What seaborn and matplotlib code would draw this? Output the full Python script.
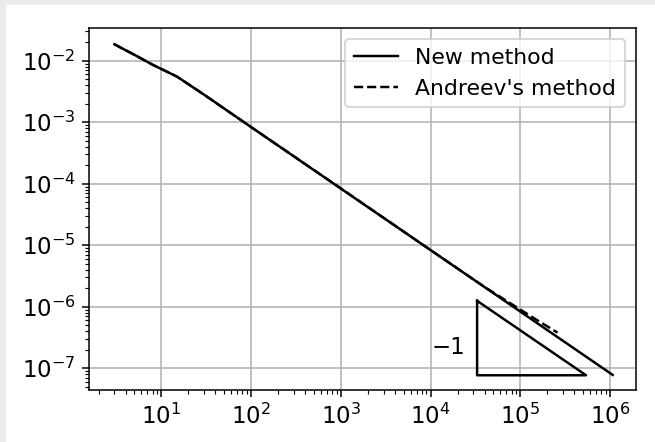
import matplotlib
matplotlib.use("Agg")
import matplotlib.pyplot as plt
import seaborn as sns
from matplotlib.patches import Rectangle
from matplotlib.ticker import NullFormatter

# values
n_new = [3, 5, 8, 15, 30, 100, 1e3, 1e4, 1e5, 1.07e6]
err_new = [1.85e-2, 1.25e-2, 8.6e-3, 5.5e-3, 2.8e-3, 8.35e-4, 8.35e-5, 8.35e-6, 8.35e-7, 7.8e-8]

n_andreev = [3, 5, 8, 15, 30, 100, 1e3, 1e4, 4e4, 7e4, 1.5e5, 2.6e5]
err_andreev = [1.85e-2, 1.25e-2, 8.6e-3, 5.5e-3, 2.8e-3, 8.35e-4, 8.4e-5, 8.35e-6, 2.1e-6, 1.25e-6, 6.2e-7, 3.8e-7]

# slope triangle
tri_x = [3.3e4, 3.3e4, 5.4e5, 3.3e4]
tri_y = [1.25e-6, 7.7e-8, 7.7e-8, 1.25e-6]
slope_label = "\u22121"

x_ticks = [1e1, 1e2, 1e3, 1e4, 1e5, 1e6]
y_ticks = [1e-7, 1e-6, 1e-5, 1e-4, 1e-3, 1e-2]

plt.rcParams["font.size"] = 12

dpi = 137
fig = plt.figure(figsize=(655 / dpi, 442 / dpi), dpi=dpi, facecolor="#ebebeb")
fig.patches.append(Rectangle((6 / 655, 0), 1, 1 - 5 / 442, transform=fig.transFigure,
                             facecolor="white", edgecolor="none", zorder=-1))
ax = fig.add_axes([89 / 655, 1 - 390 / 442, (636 - 89) / 655, (390 - 28) / 442])

sns.lineplot(x=n_new, y=err_new, color="k", lw=1.3, label="New method", ax=ax,
             estimator=None, sort=False)
sns.lineplot(x=n_andreev, y=err_andreev, color="k", lw=1.3, linestyle="--",
             label="Andreev's method", ax=ax, estimator=None, sort=False)
ax.plot(tri_x, tri_y, color="k", lw=1.3)
ax.text(tri_x[0] / 1.35, 2.2e-7, slope_label, ha="right", va="center")

ax.set_xscale("log")
ax.set_yscale("log")
ax.set_xticks(x_ticks)
ax.set_yticks(y_ticks)
ax.set_xlim(10 ** 0.194, 10 ** 6.289)
ax.set_ylim(10 ** -7.353, 10 ** -1.468)
ax.xaxis.set_minor_formatter(NullFormatter())
ax.yaxis.set_minor_formatter(NullFormatter())
ax.grid(True, which="major")
ax.legend(loc="upper right", fontsize=11.5)

fig.savefig("out.png", dpi=dpi, facecolor=fig.get_facecolor())
